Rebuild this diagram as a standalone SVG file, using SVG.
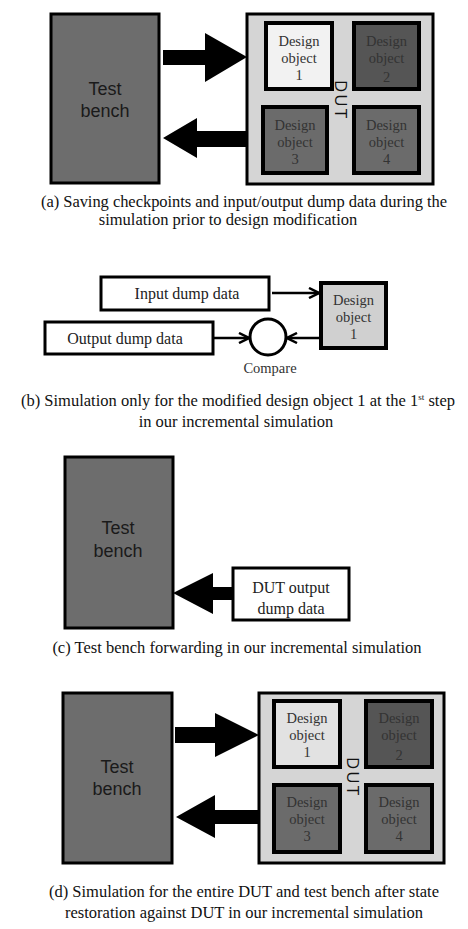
<svg xmlns="http://www.w3.org/2000/svg" width="468" height="929" viewBox="0 0 468 929">
<style>
.tb{fill:#6d6d6d;stroke:#000;stroke-width:3}
.dut{fill:#d5d5d5;stroke:#000;stroke-width:3}
.do{stroke:#000;stroke-width:4}
.wbox{fill:#fff;stroke:#000;stroke-width:3}
.tbt{font-family:"Liberation Sans",Arial,sans-serif;font-size:18px;fill:#1a1a1a;text-anchor:middle}
.dut-t{font-family:"Open Sans","Liberation Sans",sans-serif;font-size:17px;fill:#111;text-anchor:middle;letter-spacing:2px}
.dot{font-family:"Liberation Serif",serif;font-size:14.5px;fill:#333;text-anchor:middle}
.bt{font-family:"Liberation Serif",serif;font-size:16px;fill:#222;text-anchor:middle}
.cap{font-family:"Liberation Serif",serif;font-size:16.5px;fill:#111;text-anchor:middle}
.fat{fill:#000}
.thin{stroke:#000;stroke-width:2.5;fill:none}
</style>
<defs>
<marker id="ah" viewBox="0 0 10 10" refX="9" refY="5" markerWidth="5" markerHeight="5" orient="auto" markerUnits="strokeWidth">
<path d="M1,1 L9,5 L1,9" fill="none" stroke="#000" stroke-width="2"/>
</marker>
</defs>
<rect width="468" height="929" fill="#fff"/>

<!-- Panel a -->
<g id="a-testbench">
<rect class="tb" x="51" y="14" width="108" height="169"/>
<text class="tbt" x="105" y="95">Test</text>
<text class="tbt" x="105" y="117">bench</text>
</g>
<g id="a-dut">
<rect class="dut" x="247" y="14" width="186" height="170"/>
<text class="dut-t" transform="translate(335,100) rotate(90)">DUT</text>
</g>
<g id="a-do1">
<rect class="do" x="266" y="23" width="66" height="66" fill="#f2f2f2"/>
<text class="dot" x="299" y="46">Design</text><text class="dot" x="299" y="63">object</text><text class="dot" x="299" y="80">1</text>
</g>
<g id="a-do2">
<rect class="do" x="354" y="23" width="65" height="66" fill="#555"/>
<text class="dot" x="386.5" y="46">Design</text><text class="dot" x="386.5" y="63">object</text><text class="dot" x="386.5" y="82">2</text>
</g>
<g id="a-do3">
<rect class="do" x="263" y="107" width="64" height="66" fill="#6b6b6b"/>
<text class="dot" x="295" y="130">Design</text><text class="dot" x="295" y="147">object</text><text class="dot" x="295" y="164">3</text>
</g>
<g id="a-do4">
<rect class="do" x="354" y="107" width="65" height="66" fill="#6b6b6b"/>
<text class="dot" x="386.5" y="130">Design</text><text class="dot" x="386.5" y="147">object</text><text class="dot" x="386.5" y="164">4</text>
</g>
<g id="a-connectors">
<polygon class="fat" points="163,50 205,50 205,33 247,57 205,82 205,65 163,65"/>
<polygon class="fat" points="247,131 197,131 197,118 163,138 197,158 197,147 247,147"/>
</g>
<text class="cap" x="244" y="207" font-size="15.5" textLength="406">(a) Saving checkpoints and input/output dump data during the</text>
<text class="cap" x="228" y="225" font-size="16.5">simulation prior to design modification</text>

<!-- Panel b -->
<g id="b-input">
<rect class="wbox" x="101" y="277" width="168" height="33"/>
<text class="bt" x="187" y="299">Input dump data</text>
</g>
<g id="b-output">
<rect class="wbox" x="45" y="322" width="168" height="32"/>
<text class="bt" x="125" y="344">Output dump data</text>
</g>
<g id="b-do1">
<rect class="do" x="321" y="283" width="65" height="65" fill="#d0d0d0"/>
<text class="dot" x="353.5" y="305">Design</text><text class="dot" x="353.5" y="322">object</text><text class="dot" x="353.5" y="339">1</text>
</g>
<g id="b-compare">
<circle cx="268" cy="337" r="18" fill="#fff" stroke="#000" stroke-width="3"/>
<text class="dot" x="270" y="373" fill="#222" font-size="14">Compare</text>
</g>
<g id="b-connectors">
<line class="thin" x1="272" y1="293" x2="319" y2="293" marker-end="url(#ah)"/>
<line class="thin" x1="213" y1="338" x2="249" y2="338" marker-end="url(#ah)"/>
<line class="thin" x1="321" y1="338" x2="287" y2="338" marker-end="url(#ah)"/>
</g>
<text class="cap" x="238" y="406" font-size="17">(b) Simulation only for the modified design object 1 at the 1<tspan font-size="9" dy="-6">st</tspan><tspan dy="6"> step</tspan></text>
<text class="cap" x="236" y="427" font-size="17">in our incremental simulation</text>

<!-- Panel c -->
<g id="c-testbench">
<rect class="tb" x="65" y="457" width="108" height="171"/>
<text class="tbt" x="118" y="534">Test</text>
<text class="tbt" x="118" y="557">bench</text>
</g>
<g id="c-dump">
<rect class="wbox" x="233" y="568" width="116" height="52"/>
<text class="bt" x="291" y="593" font-size="17">DUT output</text>
<text class="bt" x="291" y="614" font-size="17">dump data</text>
</g>
<g id="c-connectors">
<polygon class="fat" points="233,587 213,587 213,573 173,593 213,614 213,600 233,600"/>
</g>
<text class="cap" x="237" y="653" font-size="17.3">(c) Test bench forwarding in our incremental simulation</text>

<!-- Panel d -->
<g id="d-testbench">
<rect class="tb" x="63" y="693" width="109" height="170"/>
<text class="tbt" x="117" y="773">Test</text>
<text class="tbt" x="117" y="795">bench</text>
</g>
<g id="d-dut">
<rect class="dut" x="259" y="693" width="185" height="170"/>
<text class="dut-t" transform="translate(347,777) rotate(90)">DUT</text>
</g>
<g id="d-do1">
<rect class="do" x="274" y="701" width="66" height="66" fill="#e2e2e2"/>
<text class="dot" x="307" y="723">Design</text><text class="dot" x="307" y="740">object</text><text class="dot" x="307" y="757">1</text>
</g>
<g id="d-do2">
<rect class="do" x="366" y="701" width="66" height="66" fill="#555"/>
<text class="dot" x="399" y="723">Design</text><text class="dot" x="399" y="740">object</text><text class="dot" x="399" y="760">2</text>
</g>
<g id="d-do3">
<rect class="do" x="274" y="785" width="66" height="67" fill="#6b6b6b"/>
<text class="dot" x="307" y="807">Design</text><text class="dot" x="307" y="824">object</text><text class="dot" x="307" y="841">3</text>
</g>
<g id="d-do4">
<rect class="do" x="366" y="785" width="66" height="67" fill="#6b6b6b"/>
<text class="dot" x="399" y="807">Design</text><text class="dot" x="399" y="824">object</text><text class="dot" x="399" y="841">4</text>
</g>
<g id="d-connectors">
<polygon class="fat" points="175,727 215,727 215,713 259,735 215,757 215,743 175,743"/>
<polygon class="fat" points="259,810 215,810 215,795 176,817 215,838 215,824 259,824"/>
</g>
<text class="cap" x="244" y="897">(d)  Simulation for the entire DUT and test bench after state</text>
<text class="cap" x="244" y="918">restoration against DUT in our incremental simulation</text>
</svg>
